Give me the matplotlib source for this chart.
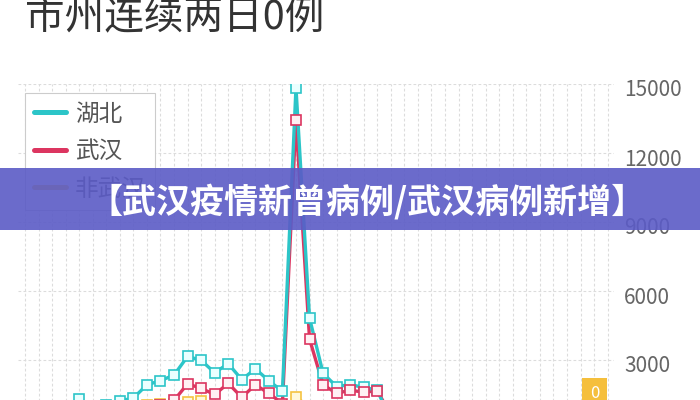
import numpy as np
import matplotlib
matplotlib.use("Agg")
import matplotlib.pyplot as plt
import matplotlib.transforms as mtransforms
from matplotlib.lines import Line2D
from matplotlib.patches import Rectangle

plt.rcParams['font.family'] = ['Noto Sans CJK SC', 'DejaVu Sans']

# Daily new confirmed cases, Jan 23 - Mar 6
dates = ['1-23', '1-24', '1-25', '1-26', '1-27', '1-28', '1-29', '1-30', '1-31',
         '2-1', '2-2', '2-3', '2-4', '2-5', '2-6', '2-7', '2-8', '2-9', '2-10',
         '2-11', '2-12', '2-13', '2-14', '2-15', '2-16', '2-17', '2-18', '2-19',
         '2-20', '2-21', '2-22', '2-23', '2-24', '2-25', '2-26', '2-27', '2-28',
         '2-29', '3-1', '3-2', '3-3', '3-4', '3-5', '3-6']
hubei = [69, 180, 323, 371, 1320, 840, 1032, 1220, 1347,
         1921, 2103, 2345, 3156, 2987, 2447, 2841, 2147, 2618, 2097,
         1638, 14840, 4823, 2420, 1843, 1933, 1807, 1693, 349,
         411, 366, 630, 398, 499, 411, 401, 409, 318,
         423, 570, 196, 114, 115, 134, 126]
wuhan = [62, 77, 46, 80, 892, 315, 356, 378, 576,
         894, 1033, 1242, 1967, 1766, 1501, 1985, 1379, 1921, 1552,
         1104, 13436, 3910, 1923, 1548, 1690, 1600, 1660, 615,
         319, 314, 541, 348, 439, 401, 387, 399, 313,
         420, 565, 193, 111, 114, 126, 126]
non_wuhan = [7, 103, 277, 291, 428, 525, 676, 842, 771,
             1027, 1070, 1103, 1189, 1221, 946, 856, 768, 697, 545,
             534, 1404, 913, 497, 295, 243, 207, 33, 0,
             92, 52, 89, 50, 60, 10, 14, 10, 5,
             3, 5, 3, 3, 1, 8, 0]
y_ticks = [0, 3000, 6000, 9000, 12000, 15000]

C_HUBEI = '#2cc5c8'
C_WUHAN = '#dc3560'
C_OTHER = '#f5c342'

fig = plt.figure(figsize=(7, 4), dpi=100)
ax = fig.add_axes([18.2 / 700, -29 / 400, 596.2 / 700, 345 / 400])

x = np.arange(len(dates))
series = [(non_wuhan, C_OTHER, '#fff8dc'),
          (wuhan, C_WUHAN, '#fff0f3'),
          (hubei, C_HUBEI, '#eaffff')]
# lines first (Hubei above Wuhan), then markers (Wuhan above Hubei)
for i, (vals, c, fc) in enumerate(series):
    ax.plot(x, vals, color=c, lw=2.4, zorder=2 + i)
for i, (vals, c, fc) in enumerate([series[0], series[2], series[1]]):
    ax.plot(x, vals, ls='none', marker='s', ms=6.5,
            mfc=fc, mec=c, mew=1.2, zorder=5 + i)

ax.set_xlim(-0.5, len(dates) - 0.5)
ax.set_ylim(0, 15000)
ax.set_xticks(x)
ax.set_xticklabels([])
ax.set_yticks(y_ticks)
ax.yaxis.tick_right()
ax.tick_params(length=0)
ax.tick_params(axis='y', labelsize=15, labelcolor='#666666', pad=7)
shift = mtransforms.ScaledTranslation(0, -4 / 100, fig.dpi_scale_trans)
for lab in ax.get_yticklabels():
    lab.set_transform(lab.get_transform() + shift)
for s in ax.spines.values():
    s.set_visible(False)
ax.grid(True, color='#dcdcdc', lw=0.8, ls=(0, (2.5, 2)))
ax.set_axisbelow(True)

# label of the last non-Wuhan value
ax.annotate(str(non_wuhan[-1]), xy=(x[-1], non_wuhan[-1]), xytext=(-9.4, 25.5),
            textcoords='offset points', ha='center', va='center',
            color='white', fontsize=12,
            bbox=dict(boxstyle='square,pad=0.45', fc='#f5bf3c', ec='none'),
            zorder=9, annotation_clip=False)

handles = [Line2D([], [], color=c, lw=3.6, solid_capstyle='round')
           for c in (C_HUBEI, C_WUHAN, C_OTHER)]
leg = ax.legend(handles, ['湖北', '武汉', '非武汉'], loc='upper left',
                bbox_to_anchor=(25 / 700, 1 - 93 / 400),
                bbox_transform=fig.transFigure,
                fontsize=17, handlelength=1.35, handletextpad=0.35,
                labelspacing=0.62, borderpad=0.4, borderaxespad=0,
                fancybox=False, framealpha=1, edgecolor='#cccccc')
leg.get_frame().set_linewidth(0.8)
leg.set_zorder(10)
for t in leg.get_texts():
    t.set_color('#555555')

fig.text(25 / 700, 1 - 18 / 400, '市州连续两日0例', fontsize=28.5,
         color='#333333', ha='left', va='center')

# overlay banner
fig.patches.append(Rectangle((0, 1 - 230 / 400), 1, 62 / 400,
                             transform=fig.transFigure, fc='#5b5bc6',
                             alpha=0.9, ec='none', zorder=10))
fig.text(367 / 700, 1 - 202 / 400, '【武汉疫情新曾病例/武汉病例新增】',
         fontsize=24.5, fontweight='heavy', color='white',
         ha='center', va='center', zorder=11)

fig.savefig('out.png', dpi=100)
